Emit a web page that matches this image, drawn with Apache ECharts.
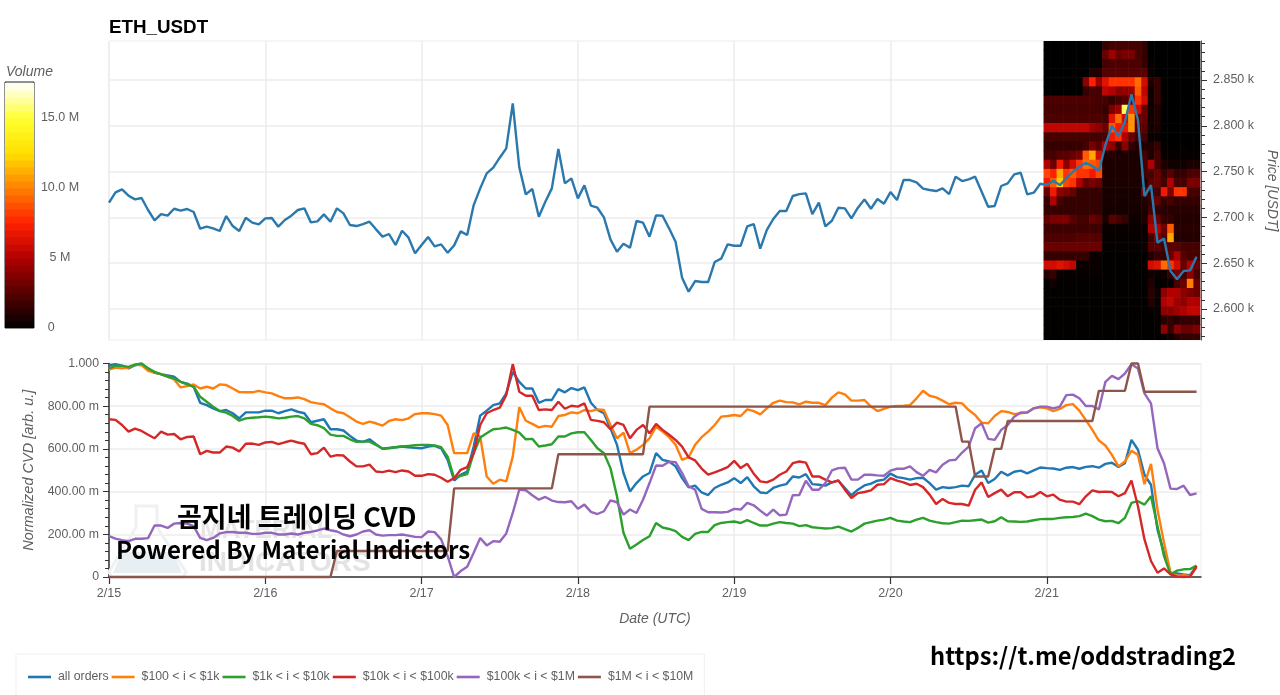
<!DOCTYPE html>
<html lang="en">
<head>
    <meta charset="UTF-8">
    <title>ETH_USDT CVD</title>
    <script src="https://cdn.jsdelivr.net/npm/echarts@6/dist/echarts.min.js"></script>
    <style>
        html, body { margin: 0; padding: 0; background: #fff; }
        #main { width: 1280px; height: 695px; }
    </style>
</head>
<body>
<div id="main"></div>

<script type="text/javascript">
    // hourly values, 2/15 00:00 to 2/21 23:00
    var price = [
        2716.1,2727.4,2730.6,2723.7,2719.7,2721.2,2708.1,2696.8,2703.7,2701.9,2709.5,2707.4,2709.2,2705.9,2687.7,2689.9,2688.1,2685.2,2701.5,2690.6,2685.2,2699.7,2694.3,2692.4,
        2699,2699.3,2689.9,2697.2,2701.9,2708.1,2709.9,2694.6,2695.7,2703.3,2695.3,2709.9,2704.4,2691.7,2690.6,2692.8,2695.3,2687,2679,2681.9,2669.9,2685.5,2677.9,2660.8,
        2669.9,2678.6,2668.4,2670.6,2661.5,2669.5,2684.8,2680.8,2713.5,2731.7,2748.1,2754.3,2765.2,2775.4,2824.5,2754.7,2725.2,2731,2700.8,2717.2,2731.7,2774.7,2737.2,2742.6,
        2720.8,2735,2712.8,2710.6,2700.1,2676.1,2662.6,2671.3,2667,2696.1,2694.3,2679,2702.3,2701.9,2688.1,2673.5,2634.2,2618.9,2630.6,2629.5,2629.5,2651.3,2655,2670.6,
        2669.1,2669.1,2690.2,2692.8,2665.9,2686.2,2698.3,2707,2707,2723.4,2725.5,2726.3,2703.7,2716.1,2690.2,2696.4,2710.6,2709.9,2699,2710.6,2719.7,2709.5,2720.1,2715,
        2727.7,2719,2740.8,2740.8,2738.3,2731.4,2729.9,2728.8,2731.7,2725.5,2744.5,2739.7,2741.6,2744.5,2728.1,2711.7,2712.5,2734.3,2737.2,2747,2748.8,2725.2,2727,2736.8,
        2735.4,2740.1,2735.3,2742.6,2749.9,2755.4,2759.7,2756.1,2750.6,2779,2800.1,2788.8,2804.5,2834.3,2806.3,2723.3,2735.3,2672.4,2677.1,2641.5,2632.4,2641.5,2642.2,2657.1
    ];

    // normalized CVD in milli units
    var cvdAll = [
        992,997,990,977,992,997,977,956,950,944,938,914,906,891,816,805,790,777,782,767,743,771,771,771,
        779,779,767,777,785,774,767,725,732,739,692,692,686,661,639,633,645,622,600,603,608,611,608,605,
        603,611,614,603,549,452,479,494,611,756,779,805,813,860,961,914,883,883,816,829,829,880,865,885,
        875,888,816,782,767,697,619,487,401,440,471,487,580,549,541,518,463,420,428,396,384,417,432,443,
        463,440,468,425,396,393,417,428,435,471,466,482,435,432,428,443,451,417,383,409,429,437,451,456,
        484,468,463,456,463,465,440,409,421,417,421,428,425,479,499,440,459,493,476,493,498,485,499,513,
        510,508,502,512,515,507,516,519,512,530,535,515,533,642,596,479,432,222,113,20,17,12,9,51
    ];
    var cvd100 = [
        972,981,977,981,995,992,966,958,950,938,925,888,894,902,883,891,883,902,899,883,866,865,865,872,
        865,860,847,837,837,841,833,819,813,809,790,773,767,748,728,717,728,720,709,731,739,735,743,763,
        767,767,763,756,712,580,580,580,673,658,471,437,456,448,564,795,732,717,701,708,704,754,759,771,
        767,782,777,785,782,712,650,676,580,596,619,650,704,681,655,619,549,561,619,655,681,712,751,754,
        759,754,785,777,762,790,816,826,819,818,809,821,816,816,805,840,865,855,826,826,829,798,777,787,
        798,801,802,805,837,872,849,841,826,809,816,813,782,759,723,720,754,777,773,763,767,771,790,795,
        790,777,787,805,810,779,735,689,639,616,572,518,541,591,572,435,530,316,160,20,5,8,5,44
    ];
    var cvd1k = [
        977,990,989,984,995,1000,977,961,949,938,930,914,902,891,844,821,798,777,770,754,732,743,746,748,
        751,748,743,746,751,754,743,717,711,697,667,661,661,645,633,634,634,619,602,605,608,611,614,617,
        619,619,616,608,564,463,474,482,580,653,673,692,695,700,689,676,645,647,611,616,622,658,658,673,
        678,678,642,603,580,510,378,207,132,152,173,191,253,232,225,215,188,173,202,211,211,243,253,257,
        260,253,266,253,241,241,250,257,253,250,238,243,233,230,227,229,236,224,213,230,250,257,264,269,
        277,264,260,257,269,277,264,257,252,250,257,264,263,266,269,255,261,280,261,260,258,260,266,271,
        272,272,277,280,281,285,297,285,269,261,263,252,277,347,355,339,378,238,98,12,30,36,37,54
    ];
    var cvd10k = [
        739,736,712,681,695,684,666,650,681,667,670,645,656,658,575,591,583,583,611,606,588,624,625,619,
        630,633,622,631,639,630,624,575,580,606,564,571,569,541,518,518,526,494,491,498,491,499,494,474,
        474,482,479,465,446,463,502,515,580,712,767,782,793,852,997,868,849,849,782,785,782,821,788,802,
        798,813,736,731,725,692,723,712,650,689,712,673,717,689,666,642,611,560,546,508,479,490,502,515,
        544,510,530,484,448,443,456,479,494,533,541,536,471,471,456,443,452,409,370,393,398,406,432,435,
        463,451,443,431,437,421,386,342,365,347,342,342,334,409,443,375,393,409,378,397,397,373,378,398,
        378,386,362,353,353,341,378,406,398,400,398,378,393,452,331,176,75,20,40,12,2,0,2,51
    ];
    var cvd100k = [
        191,180,173,168,179,179,182,241,241,230,250,253,250,238,183,173,183,204,210,211,207,207,202,202,
        207,207,199,199,204,199,207,211,218,227,219,213,199,191,199,213,219,199,194,196,196,199,194,188,
        187,213,210,176,98,0,28,48,114,183,148,168,165,204,300,409,406,383,362,375,358,351,350,355,
        320,339,305,295,308,359,350,292,316,300,362,440,522,521,540,538,487,425,409,319,303,303,302,305,
        319,316,347,336,311,288,316,289,292,383,384,451,409,409,440,499,510,512,456,456,479,479,476,474,
        498,507,507,518,491,474,502,490,526,546,549,583,611,697,720,647,642,689,712,751,771,770,790,798,
        798,790,798,852,854,837,801,801,785,914,942,927,953,997,977,860,813,603,533,414,412,428,384,392
    ];
    var cvd1m = [
        0,0,0,0,0,0,0,0,0,0,0,0,0,0,0,0,0,0,0,0,0,0,0,0,
        0,0,0,0,0,0,0,0,0,0,0,122,122,122,122,122,122,122,122,122,122,122,122,122,
        122,122,122,122,122,415,415,415,415,415,415,415,415,415,415,415,415,415,415,415,415,575,575,575,
        575,575,575,575,575,575,575,575,575,575,575,798,798,798,798,798,798,798,798,798,798,798,798,798,
        798,798,798,798,798,798,798,798,798,798,798,798,798,798,798,798,798,798,798,798,798,798,798,798,
        798,798,798,798,798,798,798,798,798,798,798,634,634,471,471,471,600,600,731,731,731,731,731,731,
        731,731,731,731,731,731,731,731,872,872,872,872,872,1000,1000,868,868,868,868,868,868,868,868,868
    ];

    var seriesNames = ['all orders', '$100 < i < $1k', '$1k < i < $10k', '$10k < i < $100k', '$100k < i < $1M', '$1M < i < $10M'];
    var seriesColors = ['#1f77b4', '#ff7f0e', '#2ca02c', '#d62728', '#9467bd', '#8c564b'];

    var dayTicks = [0, 24, 48, 72, 96, 120, 144];
    var dayLabels = ['2/15', '2/16', '2/17', '2/18', '2/19', '2/20', '2/21'];
    var priceTicks = [2600, 2650, 2700, 2750, 2800, 2850];
    var priceMinorTicks = [2570, 2580, 2590, 2610, 2620, 2630, 2640, 2660, 2670, 2680, 2690, 2710, 2720, 2730, 2740, 2760, 2770, 2780, 2790, 2810, 2820, 2830, 2840, 2860, 2870, 2880, 2890];

    // volume heat map, in millions. one row per price level, one column per hour of 2/21
    var heatHours = [144, 145, 146, 147, 148, 149, 150, 151, 152, 153, 154, 155, 156, 157, 158, 159, 160, 161, 162, 163, 164, 165, 166, 167];
    var heatPrices = [2888, 2878, 2868, 2858, 2848, 2838, 2828, 2818, 2808, 2798, 2788, 2778, 2768, 2758, 2748, 2738, 2728, 2718, 2708, 2698, 2688, 2678, 2668, 2658, 2648, 2638, 2628, 2618, 2608, 2598, 2588, 2578, 2568];
    var heatRows = [
        [0,0,0,0,0,0,0,0,0,1.5,2,2,2,2,2,1.5,0,0,0,0,0,0,0,0],
        [0,0,0,0,0,0,0,0,0,3,4.5,3,3.5,3.5,2,1.5,0,0,0,0,0,0,0,0],
        [0,0,0,0,0,0,0,0,0,2,2.2,2.2,2.2,2.2,2.2,1.5,0.2,0,0,0,0,0,0,0],
        [0,0,0,0,0,0,0,1,1,2.5,2.5,2.5,2.5,2.5,2.5,2.5,0.3,0,0,0,0,0,0,0],
        [0,0,0,0,0,0,4,7.5,4.5,6.5,8,8,8,8,9.5,6,1,1.5,0,0,0,0,0,0],
        [0,0,0,0,0,0,1.5,2,2,5.5,5,4,4,4.5,9,5.5,0.5,1.5,0,0,0,0,0,0],
        [2.2,2.2,2.2,2.2,2.2,2.2,2.2,2.2,2,2,1.5,2,2.5,3,8,6,0.5,1.5,0,0,0,0,0,0],
        [2,2,2,2,2,2,2,2,2,1.5,3.5,4.5,15.5,8,6,3,0.5,1,0,0,0,0,0,0],
        [2.2,2.2,2.2,2.2,2.2,2.2,2.2,2.2,2.2,2,6.5,9.5,6,10.5,3,3,0.5,1,0,0,0,0,0,0],
        [5.5,5.5,5.5,5.5,5.5,5.5,5.5,4.5,4,3,9,7,7,10.5,2.5,2.5,0.5,0.8,0,0,0,0,0,0],
        [2,2,2,2,2,2,2,2,2,2,7,8,5,3,2,2,0.3,0.3,0,0,0,0,0,0],
        [1.5,1.5,1.5,1.5,1.5,1.5,2,3.5,2.5,5,4,1.5,4,1.5,1,1,1,1.5,0.1,0,0,0.1,0,0],
        [2,2,2.5,2.5,3,3.5,9,11,6,1,1,0.8,0.8,0.8,0.8,2,1,2,0.2,0.2,0.2,0.2,0.2,0.2],
        [5,3,7,4,6,8,9.5,9,8.5,0.8,0.8,0.8,0.8,0.8,0.8,2,5,2,0.8,0.5,0.5,0.5,0.8,0.8],
        [8.5,7.5,11,8,9,8,8,7,8.5,0.8,0.8,0.8,0.8,0.8,0.8,2,2,3,1.5,2.5,1.5,1.5,2.2,2.2],
        [7,9,12,8.5,8,5,3,3.5,3,0.8,0.8,0.8,0.8,0.8,0.8,1,2.5,3,2,5,2,2,3.5,3.5],
        [3,7,4,3.5,3,1.5,1.5,1.5,1.5,0.7,0.7,0.7,0.7,0.7,0.7,3,1.5,2,7,3.5,8,8,2,2],
        [1.5,5,2,1.5,1.5,1.5,1.5,1.5,1.5,0.7,0.7,0.7,0.7,0.7,0.7,1,1.5,3,1.5,2,1.5,1.5,1.5,1.5],
        [1.5,1.5,1.5,1.5,1.5,1.5,1.5,1.5,1.5,0.6,0.6,0.6,0.6,0.6,0.6,0.8,2,1.5,1.2,1.2,1.2,1.2,1.2,1.2],
        [2.8,3.5,3.5,3.5,2.5,2,2,3,2.5,0.8,2.5,2,1.5,0.4,0.4,0.8,4,3,1.5,1.5,1,1,1,1],
        [1.8,1.8,1.8,1.8,1.8,1.8,1.8,1.8,1.8,0.3,0.3,0.3,0.3,0.3,0.3,0.3,5,5,3,9,1.2,1.2,1.2,1.2],
        [2.2,2.2,2.2,2.2,2.2,2.5,2.5,2.5,2.5,0.2,0.2,0.2,0.2,0.2,0.2,0.3,2,3.5,2.5,11,1,1,1,1],
        [3,3,3,3,3,3,3,3,3,0.2,0.2,0.2,0.2,0.2,0.2,0.3,2.5,2.5,2,2.5,2.5,2,2,2],
        [1.5,1.5,1.5,1.5,1.5,1.5,1.5,0.3,0.3,0.1,0.1,0.1,0.1,0.1,0.1,0.1,1,1.5,1.5,3,5,2.5,2,2],
        [6,6,6.5,6,5.5,0.3,0.3,0.3,0.3,0.1,0.1,0.1,0.1,0.1,0.1,0.1,6,6.5,9.5,8,6,3,5,3],
        [1,1.5,0.2,0.2,0.2,0.2,0.2,0.2,0.2,0.1,0.1,0.1,0.1,0.1,0.1,0.1,0.5,0.3,0.5,1.5,3.5,2,4,2],
        [0.1,0.5,0.1,0.1,0.1,0.1,0.1,0.1,0.1,0.1,0.1,0.1,0.1,0.1,0.1,0.1,1,0.1,0.2,0.2,2,3,10,3],
        [0.1,0.1,0.1,0.1,0.1,0.1,0.1,0.1,0.1,0.1,0.1,0.1,0.1,0.1,0.1,0.1,1.2,0.4,4,5,5,4,3.5,3],
        [0.1,0.1,0.1,0.1,0.1,0.1,0.1,0.1,0.1,0.1,0.1,0.1,0.1,0.1,0.1,0.1,1,0.3,5,5.5,4.5,4,5,5],
        [0.1,0.1,0.1,0.1,0.1,0.1,0.1,0.1,0.1,0.1,0.1,0.1,0.1,0.1,0.1,0.1,0.2,0.3,4,4,4.5,5,5.5,5.5],
        [0.1,0.1,0.1,0.1,0.1,0.1,0.1,0.1,0.1,0.1,0.1,0.1,0.1,0.1,0.1,0.1,0.1,0.2,1.2,1.5,1,1.5,1.5,1.5],
        [0.1,0.1,0.1,0.1,0.1,0.1,0.1,0.1,0.1,0.1,0.1,0.1,0.1,0.1,0.1,0.1,0.1,0.1,4,1.5,4,3,3,3.5],
        [0.1,0.1,0.1,0.1,0.1,0.1,0.1,0.1,0.1,0.1,0.1,0.1,0.1,0.1,0.1,0.1,0.1,0.1,0.2,0.5,1,1.5,1.5,1.5]
    ];

    // colour bar levels, in millions
    var barLevels = [0.25,0.75,1.25,1.75,2.25,2.75,3.25,3.75,4.25,4.75,5.25,5.75,6.25,6.75,7.25,7.75,8.25,8.75,9.25,9.75,10.25,10.75,11.25,11.75,12.25,12.75,13.25,13.75,14.25,14.75,15.25,15.75,16.25,16.75,17.25];
    var barStops = ['#000000', '#560000', '#b00000', '#ff2000', '#ff8000', '#ffe000', '#ffff30', '#ffffff'];

    var textColor = '#5f5f5f';
    var gridColor = '#ededed';
    var font = '"Liberation Sans", Arial, sans-serif';

    var myChart = echarts.init(document.getElementById('main'));

    var heatData = [];
    heatRows.forEach(function (row, r) {
        row.forEach(function (v, c) {
            heatData.push([heatHours[c], heatPrices[r], v]);
        });
    });

    function renderCell(params, api) {
        var pos = api.coord([api.value(0), api.value(1)]);
        var size = api.size([api.value(3), api.value(4)]);
        var rect = echarts.graphic.clipRectByRect({
            x: pos[0] - size[0] / 2,
            y: pos[1] - size[1] / 2,
            width: size[0] + 0.6,
            height: size[1] + 0.6
        }, params.coordSys);
        if (!rect) return;
        return {type: 'rect', shape: rect, style: {fill: api.visual('color')}};
    }

    var lineSeries = seriesNames.map(function (name, i) {
        var values = [cvdAll, cvd100, cvd1k, cvd10k, cvd100k, cvd1m][i];
        return {
            name: name,
            type: 'line',
            xAxisIndex: 1,
            yAxisIndex: 1,
            symbol: 'none',
            clip: false,
            z: 3 + i,
            lineStyle: {width: 2.4, color: seriesColors[i]},
            itemStyle: {color: seriesColors[i]},
            data: values.map(function (v, h) { return [h, v]; })
        };
    });

    myChart.setOption({
        animation: false,
        textStyle: {fontFamily: font},
        title: {
            text: 'ETH_USDT',
            left: 104,
            top: 13,
            textStyle: {fontSize: 18.8, fontWeight: 'bold', color: '#000', fontFamily: font}
        },
        legend: {
            left: 16,
            top: 654,
            padding: [17, 11, 17, 12],
            itemWidth: 23,
            itemHeight: 2.6,
            itemGap: 3,
            borderColor: '#f0f0f0',
            borderWidth: 1,
            selectedMode: false,
            icon: 'rect',
            data: seriesNames,
            textStyle: {color: textColor, fontSize: 12.3, fontFamily: font, padding: [0, 0, 0, 2]}
        },
        grid: [
            {left: 109, top: 41, width: 1092, height: 299, show: true, borderColor: gridColor, borderWidth: 1, outerBoundsMode: 'none'},
            {left: 109, top: 363.5, width: 1092, height: 213.5, show: true, borderColor: gridColor, borderWidth: 1, outerBoundsMode: 'none'},
            {left: 5, top: 82, width: 29, height: 246, show: true, borderColor: '#222', borderWidth: 1, outerBoundsMode: 'none'},
            // same box as the price plot, only carries the minor price ticks
            {left: 109, top: 41, width: 1092, height: 299, outerBoundsMode: 'none'}
        ],
        xAxis: [
            {
                type: 'value', gridIndex: 0, min: 0, max: 167.68,
                axisLine: {show: false, onZero: false},
                axisTick: {show: false, customValues: dayTicks},
                axisLabel: {show: false},
                splitLine: {show: true, lineStyle: {color: gridColor, width: 1.5}}
            },
            {
                type: 'value', gridIndex: 1, min: 0, max: 167.68,
                name: 'Date (UTC)',
                nameLocation: 'middle',
                nameGap: 35,
                nameTextStyle: {fontStyle: 'italic', fontSize: 14, color: textColor, fontFamily: font},
                axisLine: {onZero: false, lineStyle: {color: '#333', width: 1.5}},
                axisTick: {length: 7, customValues: dayTicks, lineStyle: {color: '#333', width: 1.2}},
                axisLabel: {
                    color: textColor, fontSize: 12.5, margin: 10, customValues: dayTicks,
                    formatter: function (v) { return dayLabels[dayTicks.indexOf(v)]; }
                },
                splitLine: {show: true, lineStyle: {color: gridColor, width: 1.5}}
            },
            {type: 'value', gridIndex: 2, min: 0, max: 1, show: false},
            {type: 'value', gridIndex: 3, min: 0, max: 167.68, show: false}
        ],
        yAxis: [
            {
                type: 'value', gridIndex: 0, position: 'right', min: 2566.2, max: 2892.6,
                name: 'Price [USDT]',
                nameLocation: 'middle',
                nameRotate: -90,
                nameGap: 62,
                nameTextStyle: {fontStyle: 'italic', fontSize: 14, color: textColor, fontFamily: font},
                axisLine: {show: true, onZero: false, lineStyle: {color: '#555', width: 1}},
                axisTick: {show: true, length: 6, customValues: priceTicks, lineStyle: {color: '#333'}},
                axisLabel: {
                    color: textColor, fontSize: 12.5, margin: 12, customValues: priceTicks,
                    formatter: function (v) { return (v / 1000).toFixed(3) + ' k'; }
                },
                splitLine: {show: true, lineStyle: {color: gridColor, width: 1.5}}
            },
            {
                type: 'value', gridIndex: 1, min: 0, max: 1000, interval: 200,
                name: 'Normalized CVD [arb. u.]',
                nameLocation: 'middle',
                nameRotate: 90,
                nameGap: 73,
                nameTextStyle: {fontStyle: 'italic', fontSize: 14.5, color: textColor, fontFamily: font},
                axisLine: {show: true, onZero: false, lineStyle: {color: '#333', width: 1.5}},
                axisTick: {show: true, length: 6, lineStyle: {color: '#333'}},
                minorTick: {show: true, splitNumber: 5, length: 4, lineStyle: {color: '#333'}},
                axisLabel: {
                    color: textColor, fontSize: 12.3, margin: 10,
                    formatter: function (v) {
                        if (v === 0) return '0';
                        if (v === 1000) return '1.000';
                        return v.toFixed(2) + ' m';
                    }
                },
                splitLine: {show: true, lineStyle: {color: gridColor, width: 1.5}}
            },
            {
                type: 'value', gridIndex: 2, position: 'right', min: 0, max: 17.57,
                axisLine: {show: false, onZero: false},
                axisTick: {show: true, inside: true, length: 5, customValues: [5, 10, 15], lineStyle: {color: '#222'}},
                axisLabel: {
                    color: textColor, fontSize: 12.5, margin: 26, align: 'center', customValues: [0, 5, 10, 15],
                    formatter: function (v) {
                        if (v === 0) return '0\u00a0\u00a0\u00a0\u00a0\u00a0';
                        if (v === 5) return '5 M';
                        return v.toFixed(1) + ' M';
                    }
                },
                splitLine: {show: false}
            },
            {
                type: 'value', gridIndex: 3, position: 'right', min: 2566.2, max: 2892.6,
                axisLine: {show: false, onZero: false},
                axisTick: {show: true, length: 4, customValues: priceMinorTicks, lineStyle: {color: '#333'}},
                axisLabel: {show: false},
                splitLine: {show: false}
            }
        ],
        visualMap: {
            show: false,
            type: 'continuous',
            min: 0,
            max: 17.5,
            dimension: 2,
            seriesIndex: [0, 1],
            inRange: {color: barStops}
        },
        series: [
            {
                type: 'custom',
                xAxisIndex: 0,
                yAxisIndex: 0,
                z: 2,
                renderItem: renderCell,
                data: heatData.map(function (d) { return [d[0], d[1], d[2], 1, 10]; })
            },
            {
                type: 'custom',
                xAxisIndex: 2,
                yAxisIndex: 2,
                z: 2,
                renderItem: renderCell,
                data: barLevels.map(function (v) { return [0.5, v, v, 1, 0.5]; })
            },
            {
                name: 'price',
                type: 'line',
                xAxisIndex: 0,
                yAxisIndex: 0,
                symbol: 'none',
                z: 5,
                lineStyle: {width: 2.4, color: '#2b78ad'},
                data: price.map(function (v, h) { return [h, v]; })
            }
        ].concat(lineSeries),
        graphic: {
            elements: [
                {type: 'polygon', z: 1, shape: {points: [[136,506],[157,506],[157,527],[186,572],[183,577],[112,577],[109,572],[136,527]]}, style: {fill: 'none', stroke: '#eef0f1', lineWidth: 3}},
                {type: 'polygon', z: 1, shape: {points: [[122,552],[173,552],[182,573],[113,573]]}, style: {fill: '#e7eff2'}},
                {type: 'text', z: 1, x: 200, y: 518, style: {text: 'MATERIAL', fill: '#e6e6e6', font: 'bold 26px "Liberation Sans"'}},
                {type: 'text', z: 1, x: 199, y: 549, style: {text: 'INDICATORS', fill: '#e3e3e3', font: 'bold 28px "Liberation Sans"'}},
                {type: 'text', z: 50, x: 6, y: 65, style: {text: 'Volume', fill: textColor, font: 'italic 14px "Liberation Sans"'}},
                {type: 'text', z: 100, x: 177, y: 503, style: {text: '곰지네 트레이딩 CVD', fill: '#000', font: 'bold 27px "Noto Sans CJK KR"'}},
                {type: 'text', z: 100, x: 116, y: 538, style: {text: 'Powered By Material Indictors', fill: '#000', font: 'bold 24.1px "Noto Sans CJK KR"'}},
                {type: 'text', z: 100, x: 930, y: 644, style: {text: 'https://t.me/oddstrading2', fill: '#000', font: 'bold 23.7px "Noto Sans CJK KR"'}}
            ]
        }
    });
</script>

</body>
</html>
